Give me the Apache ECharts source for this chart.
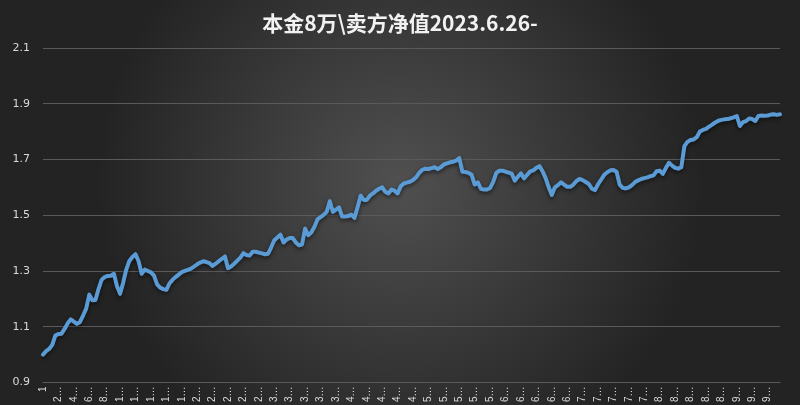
<!DOCTYPE html>
<html>
<head>
<meta charset="utf-8">
<script src="https://cdn.jsdelivr.net/npm/echarts@6/dist/echarts.min.js"></script>
<style>html,body{margin:0;padding:0;background:#2a2a2a;}#c{width:800px;height:405px;}</style>
</head>
<body>
<div id="c"></div>
<script>
const titleText = '本金8万\\卖方净值2023.6.26-';
// day index of each sample (every 4th trading day)
const days = [];
for (let d = 1; d <= 957; d += 4) days.push(String(d));
const netValue = [
1.000,1.012,1.020,1.035,1.068,1.074,1.075,1.092,1.112,1.126,
1.118,1.110,1.117,1.140,1.165,1.215,1.195,1.196,1.235,1.268,
1.278,1.282,1.283,1.290,1.245,1.218,1.258,1.305,1.336,1.350,
1.360,1.335,1.290,1.305,1.300,1.295,1.283,1.252,1.240,1.235,
1.232,1.255,1.268,1.278,1.287,1.296,1.300,1.304,1.308,1.316,
1.324,1.330,1.335,1.332,1.328,1.318,1.326,1.335,1.343,1.352,
1.310,1.316,1.326,1.337,1.348,1.364,1.357,1.355,1.369,1.369,
1.366,1.363,1.360,1.362,1.385,1.410,1.420,1.430,1.402,1.413,
1.418,1.418,1.402,1.392,1.395,1.452,1.428,1.438,1.458,1.485,
1.493,1.501,1.512,1.550,1.512,1.520,1.528,1.495,1.495,1.497,
1.502,1.490,1.528,1.570,1.555,1.555,1.570,1.578,1.588,1.595,
1.600,1.584,1.578,1.592,1.588,1.578,1.604,1.614,1.617,1.620,
1.626,1.636,1.652,1.663,1.667,1.666,1.669,1.672,1.666,1.672,
1.682,1.686,1.690,1.692,1.696,1.705,1.656,1.655,1.652,1.645,
1.610,1.618,1.595,1.592,1.592,1.598,1.620,1.652,1.660,1.660,
1.656,1.653,1.649,1.624,1.638,1.650,1.632,1.645,1.657,1.661,
1.670,1.676,1.658,1.633,1.600,1.573,1.600,1.608,1.618,1.610,
1.602,1.602,1.610,1.623,1.630,1.626,1.619,1.612,1.595,1.590,
1.611,1.628,1.645,1.654,1.661,1.662,1.656,1.610,1.598,1.596,
1.600,1.608,1.619,1.625,1.630,1.633,1.636,1.640,1.643,1.658,
1.660,1.648,1.670,1.688,1.678,1.670,1.667,1.672,1.748,1.763,
1.770,1.772,1.780,1.800,1.806,1.810,1.818,1.825,1.833,1.839,
1.842,1.844,1.845,1.848,1.851,1.856,1.820,1.834,1.838,1.847,
1.845,1.838,1.856,1.858,1.857,1.858,1.861,1.862,1.860,1.862
];
const yTicks = ['0.9','1.1','1.3','1.5','1.7','1.9','2.1'];

const chart = echarts.init(document.getElementById('c'));
chart.setOption({
  animation: false,
  backgroundColor: {
    type: 'radial', x: 0.5, y: 0.45, r: 0.75,
    colorStops: [{offset: 0, color: '#505050'}, {offset: 1, color: '#232323'}]
  },
  title: {
    text: titleText, left: 'center', top: 8,
    textStyle: {color: '#f2f2f2', fontSize: 21, fontWeight: 'bold', fontFamily: 'Noto Sans CJK SC'}
  },
  grid: {left: 43, right: 20, top: 48, bottom: 19, containLabel: false},
  xAxis: {
    type: 'category', data: days, boundaryGap: false,
    axisLine: {show: true, lineStyle: {color: '#5a5a5a', width: 1}},
    axisTick: {show: false},
    axisLabel: {
      interval: 4, rotate: 90, color: '#d9d9d9', fontSize: 10, margin: 4,
      fontFamily: 'Liberation Sans',
      formatter: v => v.length > 1 ? v[0] + '…' : v
    },
    splitLine: {show: false}
  },
  yAxis: {
    type: 'value', min: 0.9, max: 2.1, interval: 0.2,
    axisLine: {show: false}, axisTick: {show: false},
    axisLabel: {color: '#d9d9d9', fontSize: 11, margin: 13, fontFamily: 'DejaVu Sans',
      formatter: v => yTicks.find(t => Math.abs(parseFloat(t) - v) < 1e-6) || ''},
    splitLine: {lineStyle: {color: '#5a5a5a', width: 1}}
  },
  series: [{
    type: 'line', data: netValue, showSymbol: false, smooth: false,
    lineStyle: {color: '#5b9bd5', width: 4, shadowColor: 'rgba(0,0,0,0.55)', shadowBlur: 4, shadowOffsetY: 2, cap: 'round', join: 'round'},
    itemStyle: {color: '#5b9bd5'}
  }]
});
</script>
</body>
</html>
